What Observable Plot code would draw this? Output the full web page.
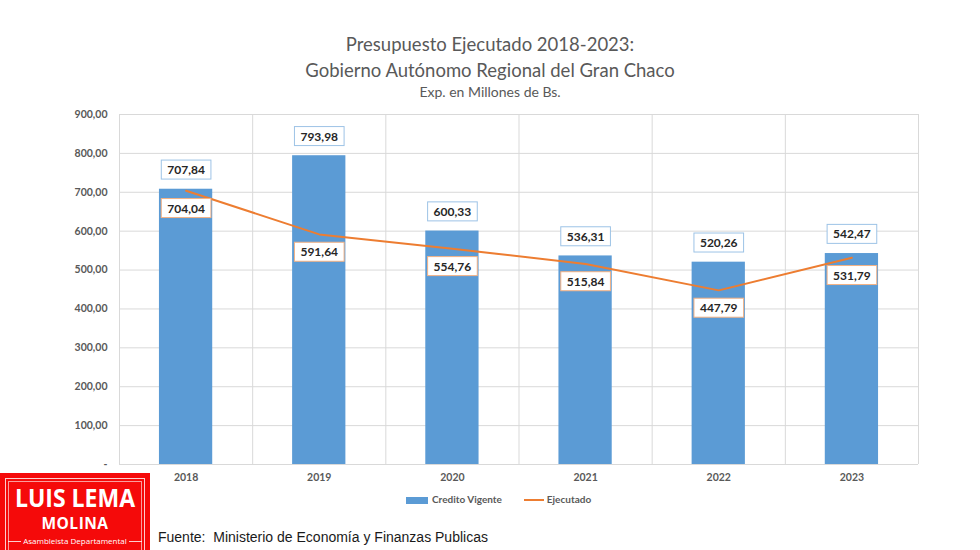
<!DOCTYPE html>
<html><head><meta charset="utf-8">
<script src="https://cdn.jsdelivr.net/npm/d3@7"></script>
<script src="https://cdn.jsdelivr.net/npm/@observablehq/plot@0.6"></script>
<style>
body{margin:0;background:#fff;}
#wrap{position:relative;width:980px;height:550px;overflow:hidden;font-family:Lato,sans-serif;background:#fff;}
#title{position:absolute;left:0;width:980px;top:31px;text-align:center;color:#595959;font-size:18.5px;line-height:26px;}
#sub{position:absolute;left:0;width:980px;top:83px;text-align:center;color:#595959;font-size:14px;}
#chart{position:absolute;left:0;top:100px;}
#legend{position:absolute;left:406px;top:493px;font-size:10px;font-weight:bold;color:#595959;white-space:nowrap;}
#legend span.sw{display:inline-block;vertical-align:middle;}
#logo{position:absolute;left:0;top:473px;width:150px;height:77px;background:#f50a0a;color:#fff;text-align:center;font-family:"Open Sans",sans-serif;}
#logo .b1{position:absolute;left:5px;top:5px;right:5px;bottom:-10px;border:1px solid rgba(255,255,255,0.8);}
#logo .b2{position:absolute;left:8px;top:8px;right:8px;bottom:-10px;border:1px solid rgba(255,255,255,0.6);}
#logo .l1{position:absolute;left:0;width:150px;top:13px;font-size:23px;font-weight:bold;line-height:22px;transform:scaleY(1.1);}
#logo .l2{position:absolute;left:0;width:150px;top:42px;font-size:15.5px;font-weight:bold;line-height:16px;letter-spacing:0.5px;}
#logo .l3{position:absolute;left:0;width:150px;top:63px;font-size:8px;line-height:10px;}
#logo .l3 span{background:#f50a0a;padding:0 2px;position:relative;}
#logo .hl{position:absolute;left:8px;right:8px;top:68px;border-top:1px solid rgba(255,255,255,0.8);}
#src{position:absolute;left:158px;top:529px;font-family:"Liberation Sans",Arial,sans-serif;font-size:14px;color:#1a1a1a;white-space:pre;}
</style></head>
<body>
<div id="wrap">
  <div id="title">Presupuesto Ejecutado 2018-2023:<br>Gobierno Autónomo Regional del Gran Chaco</div>
  <div id="sub">Exp. en Millones de Bs.</div>
  <div id="chart"></div>
  <div id="legend"><span class="sw" style="width:22px;height:7px;background:#5B9BD5;margin-right:4px;"></span>Credito Vigente<span class="sw" style="width:20px;height:2px;background:#ED7D31;margin-left:22px;margin-right:3px;"></span>Ejecutado</div>
  <div id="logo"><div class="b1"></div><div class="b2"></div><div class="hl"></div>
    <div class="l1">LUIS LEMA</div><div class="l2">MOLINA</div><div class="l3"><span>Asambleista Departamental</span></div></div>
  <div id="src">Fuente:  Ministerio de Economía y Finanzas Publicas</div>
</div>
<script>
const years = [2018, 2019, 2020, 2021, 2022, 2023];
const credito = [707.84, 793.98, 600.33, 536.31, 520.26, 542.47];
const ejecutado = [704.04, 591.64, 554.76, 515.84, 447.79, 531.79];
const yTicks = [0, 100, 200, 300, 400, 500, 600, 700, 800, 900];

const data = years.map((y, i) => ({year: y, credito: credito[i], ejecutado: ejecutado[i]}));
const bounds = [years[0] - 0.5, ...years.map(y => y + 0.5)];
const fmt = v => v.toFixed(2).replace(".", ",");

const chart = Plot.plot({
  width: 980,
  height: 390,
  marginTop: 14,
  marginBottom: 26,
  marginLeft: 119,
  marginRight: 62,
  style: {fontFamily: "Lato, sans-serif", fontSize: "10.5px", fontWeight: "bold", color: "#595959", background: "transparent"},
  x: {domain: [years[0] - 0.5, years[years.length - 1] + 0.5], ticks: years, tickFormat: d => String(d), tickSize: 0, tickPadding: 9, label: null},
  y: {domain: [0, 900], ticks: yTicks, tickFormat: d => d === 0 ? "-" : fmt(d), tickSize: 0, tickPadding: 12, label: null},
  marks: [
    Plot.ruleY(yTicks, {stroke: "#d9d9d9", strokeWidth: 1}),
    Plot.ruleX(bounds, {stroke: "#d9d9d9", strokeWidth: 1}),
    Plot.rectY(data, {x1: d => d.year - 0.2, x2: d => d.year + 0.2, y: "credito", fill: "#5B9BD5"}),
    Plot.lineY(data, {x: "year", y: "ejecutado", stroke: "#ED7D31", strokeWidth: 2}),
    Plot.text(data, {x: "year", y: "credito", text: d => fmt(d.credito), dy: -19, fontSize: 12, fontWeight: "bold", fill: "#262626"}),
    Plot.text(data, {x: "year", y: "ejecutado", text: d => fmt(d.ejecutado), dy: 18, fontSize: 12, fontWeight: "bold", fill: "#262626"})
  ]
});
document.getElementById("chart").appendChild(chart);

function boxes(g, stroke) {
  if (!g) return;
  g.querySelectorAll("text").forEach(t => {
    const b = t.getBBox();
    const r = document.createElementNS("http://www.w3.org/2000/svg", "rect");
    r.setAttribute("x", b.x - 6);
    r.setAttribute("y", b.y - 2);
    r.setAttribute("width", b.width + 12);
    r.setAttribute("height", b.height + 4);
    r.setAttribute("fill", "#fff");
    r.setAttribute("stroke", stroke);
    r.setAttribute("stroke-width", 1);
    const tr = t.getAttribute("transform");
    if (tr) r.setAttribute("transform", tr);
    t.parentNode.insertBefore(r, t);
  });
}
const textGroups = Array.from(chart.querySelectorAll('g[aria-label="text"]'));
boxes(textGroups[0], "#9DC3E6");
boxes(textGroups[1], "#F4B183");
</script>
</body></html>
